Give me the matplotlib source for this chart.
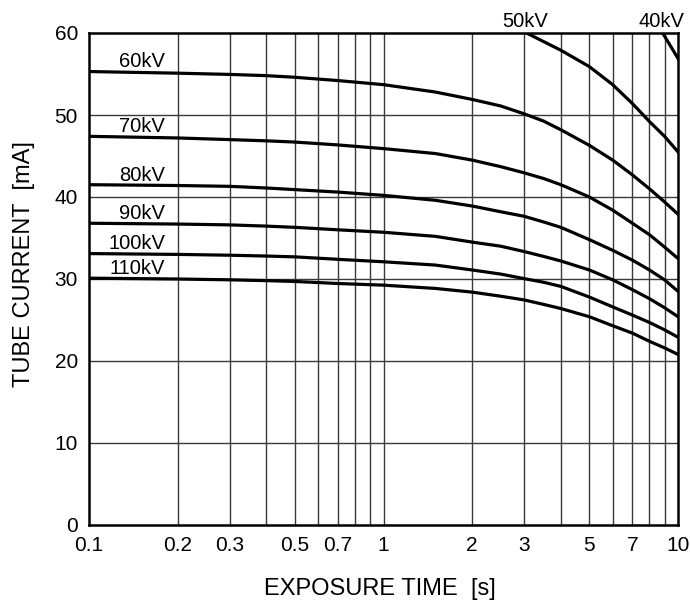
import matplotlib
matplotlib.use('Agg')
import matplotlib.pyplot as plt
from matplotlib.ticker import FixedLocator, NullFormatter

plt.rcParams['font.family'] = ['Liberation Sans', 'DejaVu Sans']

# exposure time [s] sample points
times = [0.1, 0.2, 0.3, 0.4, 0.5, 0.7, 1, 1.5, 2, 2.5, 3, 3.5, 4, 5, 6, 7, 8, 9, 10]

# tube current [mA] per kV
ma_60kv = [55.3, 55.1, 54.95, 54.8, 54.6, 54.2, 53.7, 52.8, 51.9, 51.1, 50.15, 49.25, 48.2, 46.3, 44.5, 42.7, 41.0, 39.4, 37.9]
ma_70kv = [47.4, 47.2, 47.0, 46.85, 46.7, 46.35, 45.9, 45.3, 44.5, 43.7, 42.95, 42.25, 41.5, 40.0, 38.4, 36.8, 35.4, 33.9, 32.5]
ma_80kv = [41.5, 41.4, 41.3, 41.1, 40.9, 40.6, 40.2, 39.6, 38.9, 38.2, 37.65, 36.95, 36.3, 34.8, 33.5, 32.3, 31.1, 29.9, 28.5]
ma_90kv = [36.8, 36.7, 36.6, 36.45, 36.3, 36.0, 35.7, 35.2, 34.5, 34.0, 33.35, 32.75, 32.2, 31.1, 29.9, 28.7, 27.6, 26.5, 25.4]
ma_100kv = [33.1, 33.0, 32.9, 32.8, 32.7, 32.4, 32.1, 31.7, 31.1, 30.6, 30.05, 29.6, 29.1, 27.8, 26.6, 25.6, 24.7, 23.8, 22.9]
ma_110kv = [30.1, 30.0, 29.9, 29.8, 29.7, 29.45, 29.25, 28.85, 28.4, 27.9, 27.45, 26.9, 26.4, 25.4, 24.3, 23.4, 22.4, 21.6, 20.8]

# 50kV and 40kV only appear at the long-time end
times_50kv = [3.06, 4, 5, 6, 7, 8, 9, 10]
ma_50kv = [60, 57.9, 55.9, 53.7, 51.4, 49.2, 47.4, 45.5]
times_40kv = [8.87, 10]
ma_40kv = [60, 56.9]

left_curves = [('60kV', ma_60kv), ('70kV', ma_70kv), ('80kV', ma_80kv),
               ('90kV', ma_90kv), ('100kV', ma_100kv), ('110kV', ma_110kv)]
top_curves = [('50kV', times_50kv, ma_50kv), ('40kV', times_40kv, ma_40kv)]

x_ticks = [0.1, 0.2, 0.3, 0.5, 0.7, 1, 2, 3, 5, 7, 10]
x_tick_labels = ['0.1', '0.2', '0.3', '0.5', '0.7', '1', '2', '3', '5', '7', '10']
x_grid = [0.2, 0.3, 0.4, 0.5, 0.6, 0.7, 0.8, 0.9, 1, 2, 3, 4, 5, 6, 7, 8, 9]
y_ticks = [0, 10, 20, 30, 40, 50, 60]

fig = plt.figure(figsize=(6.9, 6), dpi=100)
ax = fig.add_axes([89 / 690, 75 / 600, 589 / 690, 492 / 600])

ax.set_xscale('log')
ax.set_xlim(0.1, 10)
ax.set_ylim(0, 60)

# grid
for gx in x_grid:
    ax.axvline(gx, color='#3a3a3a', lw=1.0, zorder=1)
for gy in y_ticks[1:-1]:
    ax.axhline(gy, color='#3a3a3a', lw=1.0, zorder=1)

for label, ma in left_curves:
    ax.plot(times, ma, color='black', lw=2.3, solid_joinstyle='round', zorder=3)
    ax.annotate(label, xy=(0.181, ma[0]), xytext=(0, 3), textcoords='offset points',
                ha='right', va='baseline', fontsize=14.5)

for label, t, ma in top_curves:
    ax.plot(t, ma, color='black', lw=2.3, solid_joinstyle='round', zorder=3)
    ax.annotate(label, xy=(t[0], 60), xytext=(-1, 4), textcoords='offset points',
                ha='center', va='baseline', fontsize=14.5, annotation_clip=False)

ax.xaxis.set_major_locator(FixedLocator(x_ticks))
ax.xaxis.set_minor_locator(FixedLocator([]))
ax.set_xticklabels(x_tick_labels)
ax.xaxis.set_minor_formatter(NullFormatter())
ax.set_yticks(y_ticks)
ax.tick_params(axis='both', which='both', length=0, labelsize=15, pad=8)

for s in ax.spines.values():
    s.set_linewidth(1.8)
    s.set_zorder(4)

ax.set_xlabel('EXPOSURE TIME  [s]', fontsize=17)
ax.xaxis.set_label_coords(0.494, -0.108)
ax.set_ylabel('TUBE CURRENT  [mA]', fontsize=17)
ax.yaxis.set_label_coords(-0.092, 0.531)

fig.savefig('out.png', dpi=100)
